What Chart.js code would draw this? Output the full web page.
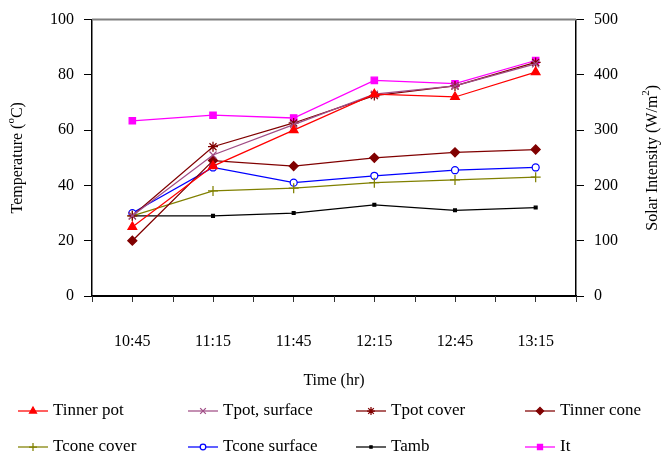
<!DOCTYPE html>
<html>
<head>
<meta charset="utf-8">
<script src="https://cdn.jsdelivr.net/npm/chart.js@4.4.1/dist/chart.umd.min.js"></script>
<style>
    html, body { margin: 0; padding: 0; background: #fff; }
    canvas { display: block; }
</style>
</head>
<body>
<canvas id="chart" width="665" height="460"></canvas>
<script>
// Time of day
const times = ['10:45', '11:15', '11:45', '12:15', '12:45', '13:15'];

// Temperatures (deg C)
const tInnerPot     = [25, 47, 60, 73, 72, 81];
const tPotSurface   = [29, 51, 62, 73, 76, 84];
const tPotCover     = [29, 54, 62.6, 72.5, 76, 84.5];
const tInnerCone    = [20, 49, 47, 50, 52, 53];
const tConeCover    = [29, 38, 39, 41, 42, 43];
const tConeSurface  = [30, 46.5, 41, 43.5, 45.5, 46.5];
const tAmb          = [29, 29, 30, 33, 31, 32];

// Solar intensity (W/m2), right axis
const solarIntensity = [317, 327, 322, 390, 384, 426];

// Tick labels
const tempTicks  = [0, 20, 40, 60, 80, 100];
const solarTicks = [0, 100, 200, 300, 400, 500];

const serif = 'Liberation Serif';
Chart.defaults.font.family = serif;
Chart.defaults.color = '#000';

function series(label, data, color, style, radius, axis, fill) {
    return {
        label: label,
        data: data,
        yAxisID: axis || 'y',
        borderColor: color,
        backgroundColor: color,
        borderWidth: 1.25,
        tension: 0,
        pointStyle: style,
        pointRadius: radius,
        pointHoverRadius: radius,
        pointBorderColor: color,
        pointBackgroundColor: fill || color,
        pointBorderWidth: 1.25
    };
}

const datasets = [
    series('Tinner pot', tInnerPot, '#ff0000', 'triangle', 5),
    series('Tpot, surface', tPotSurface, '#a04d86', 'crossRot', 5),
    series('Tpot cover', tPotCover, '#800000', 'star', 5),
    series('Tinner cone', tInnerCone, '#800000', 'rectRot', 4.5),
    series('Tcone cover', tConeCover, '#808000', 'cross', 5),
    series('Tcone surface', tConeSurface, '#0000ff', 'circle', 3.5, 'y', '#ffffff'),
    series('Tamb', tAmb, '#000000', 'rect', 2),
    series('It', solarIntensity, '#ff00ff', 'rect', 4.5, 'y1')
];

// Draw a line of text with superscript pieces, centred on (x, y)
function drawRich(ctx, parts, x, y, angle) {
    const base = '16px "' + serif + '"';
    const small = '11px "' + serif + '"';
    let total = 0;
    parts.forEach(p => {
        ctx.font = p.sup ? small : base;
        p.w = ctx.measureText(p.t).width;
        total += p.w;
    });
    ctx.save();
    ctx.translate(x, y);
    ctx.rotate(angle);
    ctx.fillStyle = '#000';
    ctx.textBaseline = 'middle';
    ctx.textAlign = 'left';
    let cx = -total / 2;
    parts.forEach(p => {
        ctx.font = p.sup ? small : base;
        ctx.fillText(p.t, cx, p.sup ? -7 : 0);
        cx += p.w;
    });
    ctx.restore();
}

const decor = {
    id: 'decor',
    afterDraw(chart) {
        const ctx = chart.ctx;
        const area = chart.chartArea;
        const xs = chart.scales.x;

        // top frame line
        ctx.save();
        ctx.strokeStyle = '#808080';
        ctx.lineWidth = 2;
        ctx.beginPath();
        ctx.moveTo(area.left, area.top);
        ctx.lineTo(area.right, area.top);
        ctx.stroke();

        // ticks between categories
        ctx.strokeStyle = '#333';
        ctx.lineWidth = 1;
        for (let i = 0; i <= times.length; i++) {
            const px = Math.round(xs.getPixelForValue(i - 0.5)) + 0.5;
            ctx.beginPath();
            ctx.moveTo(px, area.bottom);
            ctx.lineTo(px, area.bottom + 6);
            ctx.stroke();
        }
        ctx.restore();

        // axis titles
        const midY = (area.top + area.bottom) / 2;
        drawRich(ctx, [{t: 'Temperature ('}, {t: 'o', sup: true}, {t: 'C)'}], 18, midY, -Math.PI / 2);
        drawRich(ctx, [{t: 'Solar Intensity (W/m'}, {t: '2', sup: true}, {t: ')'}], 653, midY, -Math.PI / 2);
        drawRich(ctx, [{t: 'Time (hr)'}], (area.left + area.right) / 2, 381, 0);

        // legend, 4 columns x 2 rows
        const cols = [18, 188, 356, 525];
        const rows = [411, 447];
        chart.data.datasets.forEach((ds, i) => {
            const x0 = cols[i % 4];
            const y0 = rows[Math.floor(i / 4)];
            ctx.save();
            ctx.strokeStyle = ds.borderColor;
            ctx.lineWidth = 1.25;
            ctx.beginPath();
            ctx.moveTo(x0, y0);
            ctx.lineTo(x0 + 30, y0);
            ctx.stroke();
            ctx.fillStyle = ds.pointBackgroundColor;
            ctx.strokeStyle = ds.pointBorderColor;
            ctx.lineWidth = ds.pointBorderWidth;
            Chart.helpers.drawPoint(ctx, {
                pointStyle: ds.pointStyle,
                radius: ds.pointRadius * 0.8,
                rotation: 0,
                borderWidth: ds.pointBorderWidth
            }, x0 + 15, y0);
            ctx.fillStyle = '#000';
            ctx.font = '17px "' + serif + '"';
            ctx.textBaseline = 'middle';
            ctx.textAlign = 'left';
            ctx.fillText(ds.label, x0 + 35, y0);
            ctx.restore();
        });
    }
};

const tickFont = { family: serif, size: 16 };

new Chart(document.getElementById('chart'), {
    type: 'line',
    data: { labels: times, datasets: datasets },
    plugins: [decor],
    options: {
        responsive: false,
        animation: false,
        layout: { padding: { top: 16, left: 0, right: 0, bottom: 0 } },
        plugins: {
            legend: { display: false },
            tooltip: { enabled: false }
        },
        scales: {
            x: {
                offset: true,
                grid: { drawOnChartArea: false, tickLength: 6, color: '#333' },
                border: { color: '#000', width: 2 },
                ticks: { font: tickFont, padding: 30, maxRotation: 0 },
                afterFit: s => { s.height = 164; }
            },
            y: {
                position: 'left',
                min: 0,
                max: 100,
                afterBuildTicks: s => { s.ticks = tempTicks.map(v => ({ value: v })); },
                grid: { drawOnChartArea: false, tickLength: 8, color: '#000' },
                border: { color: '#000', width: 1.5 },
                ticks: { font: tickFont, padding: 10 },
                afterFit: s => { s.width = 92; }
            },
            y1: {
                position: 'right',
                min: 0,
                max: 500,
                afterBuildTicks: s => { s.ticks = solarTicks.map(v => ({ value: v })); },
                grid: { drawOnChartArea: false, tickLength: 8, color: '#000' },
                border: { color: '#000', width: 1.5 },
                ticks: { font: tickFont, padding: 10 },
                afterFit: s => { s.width = 89; }
            }
        }
    }
});
</script>
</body>
</html>
